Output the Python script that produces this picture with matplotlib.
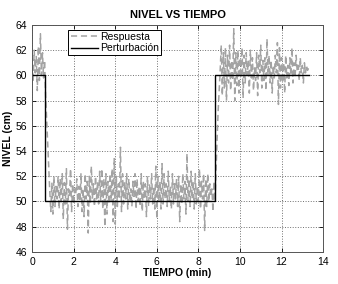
import numpy as np
import matplotlib
matplotlib.use("Agg")
import matplotlib.pyplot as plt

plt.rcParams['font.family'] = ['Liberation Sans', 'DejaVu Sans']

dt = 0.05  # sample period (min)

# Respuesta
resp_alto = [61.0, 59.5, 62.0, 60.2, 61.5, 58.8, 62.3, 59.6, 63.3, 60.0, 61.8, 59.8, 61.2]
resp_baja = [58.4, 56.5, 54.6, 52.5, 50.8, 49.2]
resp_50 = [
    51.5, 49.0, 52.0, 49.6, 51.2, 50.2, 52.0, 49.4, 51.8, 50.0, 52.2, 48.6, 51.5, 49.8, 52.6, 47.8, 51.0, 50.4, 52.6, 49.2,
    51.4, 49.8, 51.0, 50.6, 51.8, 49.6, 51.2, 50.0, 52.2, 49.2, 51.0, 48.8, 52.2, 50.2, 51.6, 47.5, 52.0, 49.8, 52.8, 50.2,
    51.4, 49.6, 52.0, 50.2, 51.6, 49.8, 52.4, 50.0, 52.6, 49.4, 51.8, 48.0, 52.2, 49.0, 51.6, 49.8, 52.2, 50.0, 52.6, 48.4,
    53.4, 48.2, 52.0, 49.6, 51.4, 50.2, 54.3, 49.2, 52.2, 49.8, 51.6, 50.2, 52.2, 49.4, 51.8, 50.0, 51.0, 49.6, 51.6, 50.4,
    52.2, 49.4, 51.8, 50.0, 51.2, 49.6, 52.2, 49.2, 51.6, 50.2, 51.4, 48.8, 52.0, 49.6, 51.4, 50.2, 52.2, 49.8, 51.2, 49.4,
    52.8, 48.6, 52.0, 50.0, 51.6, 49.4, 53.0, 49.8, 52.2, 50.2, 51.4, 49.6, 52.4, 50.0, 51.2, 49.4, 52.2, 49.8, 51.6, 50.2,
    51.8, 49.6, 52.0, 48.4, 51.4, 49.8, 52.2, 50.2, 51.6, 49.0, 53.8, 50.0, 51.8, 49.6, 52.4, 50.2, 51.6, 49.4, 52.2, 49.8,
    51.2, 50.0, 52.6, 49.4, 51.6, 50.2, 52.2, 47.7, 51.8, 49.6, 52.2, 50.0, 51.4, 50.4, 51.0, 49.2, 51.6,
]
resp_sube = [50.0, 52.5, 55.0, 57.2, 58.8, 60.5, 62.4]
resp_60 = [
    58.4, 61.8, 59.0, 62.2, 58.0, 61.6, 59.4, 62.4, 58.8, 61.2, 59.6, 63.7, 58.0, 61.8, 59.2, 62.0, 58.6, 61.4, 59.8, 62.2,
    58.2, 61.6, 59.4, 61.8, 60.0, 61.2, 58.6, 62.0, 59.8, 61.4, 58.8, 60.6, 59.6, 61.8, 58.4, 61.6, 60.2, 62.4, 59.0, 61.2,
    59.6, 61.4, 58.8, 62.9, 60.0, 61.6, 59.4, 61.2, 58.6, 60.8, 59.8, 61.6, 60.2, 62.6, 57.7, 62.2, 59.0, 61.4, 59.4, 61.0,
    58.6, 61.6, 59.8, 60.8, 59.2, 61.4, 60.0, 62.2, 59.4, 61.0, 59.8, 61.6, 60.4, 60.8, 59.6, 61.4, 60.2, 60.8, 59.4, 61.0,
    60.2, 60.8, 60.4, 60.6,
]
respuesta = np.array(resp_alto + resp_baja + resp_50 + resp_sube + resp_60)
t_resp = np.arange(len(respuesta)) * dt

# Perturbacion (escalones)
t_pert = [0, 0.6, 0.6, 8.8, 8.8, 13.3]
perturbacion = [60, 60, 50, 50, 60, 60]

fig = plt.figure(figsize=(3.38, 2.84), dpi=100)
ax = fig.add_axes([0.095, 0.113, 0.861, 0.799])

ax.plot(t_resp, respuesta, color='#a3a3a3', lw=1.1, ls=(0, (4.0, 2.5)), label='Respuesta')
ax.plot(t_pert, perturbacion, color='black', lw=1.0, label='Perturbación')

ax.set_xlim(0, 14)
ax.set_ylim(46, 64)
ax.set_xticks(range(0, 15, 2))
ax.set_yticks(range(46, 65, 2))
ax.grid(True, ls=':', color='#707070', lw=0.7)
ax.tick_params(direction='in', top=True, right=True, labelsize=7.5, length=3, width=0.6)
for s in ax.spines.values():
    s.set_color('#555555')
    s.set_linewidth(0.7)

ax.set_title('NIVEL VS TIEMPO', fontsize=8, fontweight='bold', pad=5)
ax.set_xlabel('TIEMPO (min)', fontsize=7.5, fontweight='bold', labelpad=1)
ax.set_ylabel('NIVEL (cm)', fontsize=7.5, fontweight='bold', labelpad=2)

leg = ax.legend(loc='upper left', bbox_to_anchor=(0.125, 0.98), fontsize=7.5, frameon=True, fancybox=False,
                borderpad=0.2, handlelength=2.6, handletextpad=0.2, labelspacing=0.15, borderaxespad=0)
leg.get_frame().set_edgecolor('black')
leg.get_frame().set_linewidth(0.7)
leg.get_frame().set_alpha(1)

fig.savefig('out.png', dpi=100)
